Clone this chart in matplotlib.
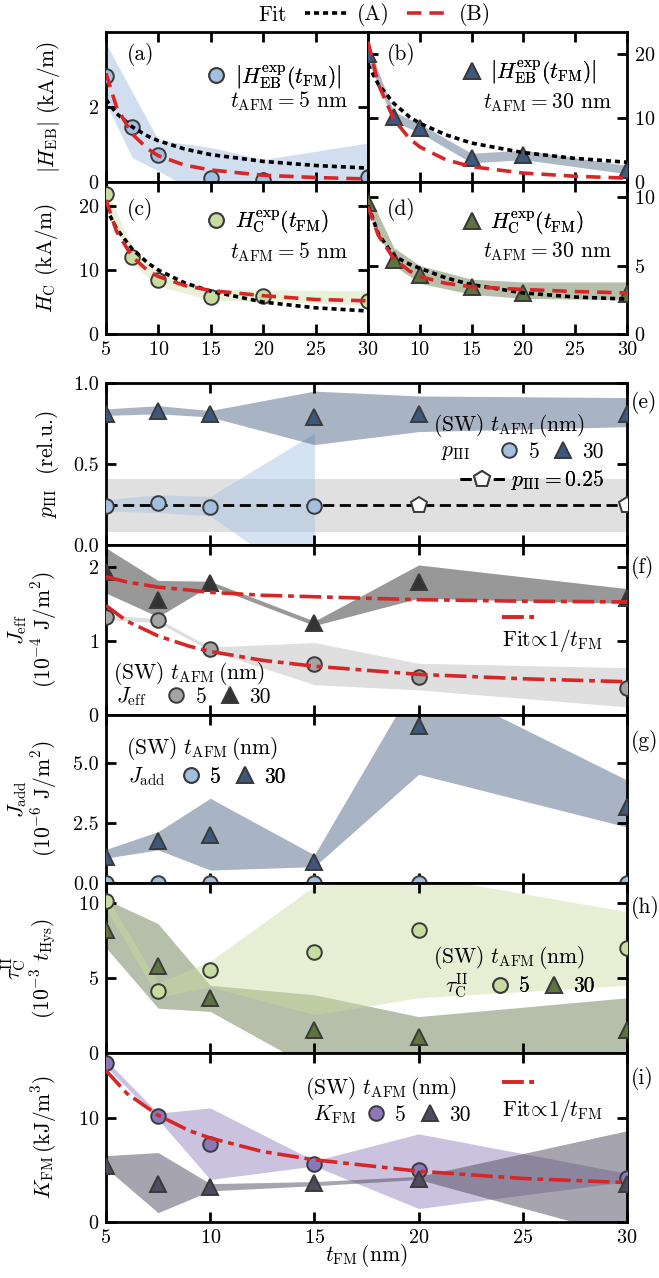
import matplotlib
matplotlib.use("Agg")
import matplotlib.pyplot as plt
from matplotlib.lines import Line2D

# ---------------- data ----------------
t_fm = [5, 7.5, 10, 15, 20, 30]
t_fit = [5, 6, 7.5, 9, 10, 12.5, 15, 20, 25, 30]

# (a) |H_EB| t_AFM = 5 nm
a_val = [2.83, 1.47, 0.72, 0.10, 0.05, 0.13]
a_lo = [2.1, 0.65, 0.30, -0.5, -0.5, -0.8]
a_hi = [3.7, 2.4, 1.12, 0.92, 0.60, 1.04]
a_fitA = [2.2, 1.83, 1.47, 1.22, 1.1, 0.88, 0.73, 0.55, 0.44, 0.37]
a_fitB = [2.9, 2.0, 1.28, 0.88, 0.7, 0.45, 0.32, 0.18, 0.12, 0.08]

# (b) |H_EB| t_AFM = 30 nm
b_val = [20.0, 10.2, 8.4, 3.7, 4.2, 1.9]
b_lo = [19.0, 9.5, 7.7, 3.0, 3.5, 1.3]
b_hi = [21.5, 11.0, 9.1, 4.5, 5.0, 2.6]
b_fitA = [18.4, 15.3, 12.3, 10.2, 9.2, 7.4, 6.1, 4.6, 3.7, 3.1]
b_fitB = [22.0, 15.3, 9.8, 6.8, 5.5, 3.5, 2.4, 1.4, 0.9, 0.6]

# (c) H_C t_AFM = 5 nm
c_val = [21.9, 12.1, 8.4, 5.8, 6.0, 5.2]
c_lo = [20.5, 11.0, 7.5, 5.3, 5.2, 4.5]
c_hi = [23.0, 13.5, 9.5, 7.0, 6.9, 6.8]
c_fitA = [19.8, 16.5, 13.3, 11.1, 10.0, 8.0, 6.7, 5.0, 4.1, 3.6]
c_fitB = [21.0, 16.1, 12.1, 9.9, 9.0, 7.6, 6.8, 6.0, 5.4, 5.2]

# (d) H_C t_AFM = 30 nm
d_val = [9.6, 5.4, 4.3, 3.4, 3.0, 2.9]
d_lo = [9.0, 5.0, 3.7, 2.9, 2.6, 2.5]
d_hi = [10.3, 6.3, 5.0, 4.0, 3.8, 3.8]
d_fitA = [9.4, 7.3, 5.7, 5.1, 4.8, 4.1, 3.6, 3.0, 2.7, 2.55]
d_fitB = [9.3, 7.2, 5.5, 4.6, 4.2, 3.7, 3.45, 3.25, 3.1, 3.0]

# (e) p_III
e_t5 = [5, 7.5, 10, 15]
e_p5 = [0.24, 0.26, 0.235, 0.24]
e_p5_lo = [0.21, 0.20, 0.18, -0.27]
e_p5_hi = [0.28, 0.31, 0.30, 0.69]
e_tfix = [20, 30]
e_pfix = [0.25, 0.25]
P_FIXED = 0.25
P_FIXED_LO, P_FIXED_HI = 0.08, 0.41
e_p30 = [0.81, 0.83, 0.81, 0.79, 0.81, 0.81]
e_p30_lo = [0.80, 0.81, 0.79, 0.62, 0.70, 0.73]
e_p30_hi = [0.84, 0.86, 0.83, 0.95, 0.92, 0.91]

# (f) J_eff
f_j5 = [1.33, 1.28, 0.89, 0.69, 0.52, 0.36]
f_j5_lo = [1.29, 1.25, 0.87, 0.41, 0.34, 0.11]
f_j5_hi = [1.36, 1.30, 0.92, 0.98, 0.70, 0.64]
f_j30 = [1.94, 1.55, 1.79, 1.24, 1.80, 1.58]
f_j30_lo = [1.65, 1.33, 1.75, 1.21, 1.58, 1.51]
f_j30_hi = [2.26, 1.82, 1.81, 1.27, 2.03, 1.71]
f_fit5 = [1.48, 1.27, 1.07, 0.93, 0.86, 0.74, 0.66, 0.55, 0.49, 0.45]
f_fit30 = [1.87, 1.80, 1.73, 1.69, 1.66, 1.62, 1.60, 1.56, 1.54, 1.53]

# (g) J_add
g_j5 = [0, 0, 0, 0, 0, 0]
g_j30 = [1.10, 1.75, 2.0, 0.89, 6.54, 3.18]
g_j30_lo = [1.04, 1.38, 0.54, 0.68, 4.53, 2.33]
g_j30_hi = [1.40, 2.14, 3.53, 1.17, 8.6, 4.29]

# (h) tau_C^II
h_t5 = [10.1, 4.1, 5.5, 6.7, 8.2, 7.0]
h_t5_lo = [9.6, 3.7, 4.4, 2.55, 3.67, 4.5]
h_t5_hi = [10.5, 4.65, 6.1, 11.1, 11.8, 9.4]
h_t30 = [8.2, 5.8, 3.64, 1.53, 1.07, 1.53]
h_t30_lo = [7.0, 2.98, 2.76, -1.07, -1.5, -1.0]
h_t30_hi = [10.2, 8.6, 4.5, 3.87, 2.42, 3.67]

# (i) K_FM
i_k5 = [15.3, 10.2, 7.55, 5.6, 5.05, 4.25]
i_k5_lo = [15.0, 9.9, 4.1, 5.4, 1.3, 3.9]
i_k5_hi = [15.6, 10.5, 11.0, 5.9, 8.5, 4.7]
i_k30 = [5.4, 3.7, 3.4, 3.8, 4.16, 3.7]
i_k30_lo = [5.2, 0.9, 3.0, 3.5, 4.1, -1.4]
i_k30_hi = [6.4, 6.7, 3.7, 3.9, 4.4, 8.8]
i_fit5 = [14.6, 12.4, 10.3, 8.8, 8.1, 6.8, 6.0, 4.9, 4.2, 3.8]

xticks = [5, 10, 15, 20, 25, 30]

# ---------------- style ----------------
FS = 15.5
plt.rcParams.update({
    "font.family": ["cmr10", "DejaVu Serif"],
    "mathtext.fontset": "cm",
    "axes.formatter.use_mathtext": True,
    "font.size": FS,
    "xtick.labelsize": 14.5, "ytick.labelsize": 14.5,
    "axes.linewidth": 2.0,
    "xtick.direction": "in", "ytick.direction": "in",
    "xtick.major.size": 7, "ytick.major.size": 7,
    "xtick.major.width": 2, "ytick.major.width": 2,
    "xtick.top": True, "ytick.right": True,
    "xtick.major.pad": 5, "ytick.major.pad": 5,
})

C_LBLUE = "#a3bfe0"
C_DBLUE = "#3e587d"
C_LGREEN = "#c8dca0"
C_OLIVE = "#5f7341"
C_LGRAY = "#a4a4a4"
C_DGRAY = "#333333"
C_PURPLE = "#8a78b8"
C_DPURP = "#4f4a5e"
C_RED = "#d62728"
EC = "#3a3a3a"

LS_A = (0, (1.4, 1.1))
LS_B = (0, (4, 2.2))
LS_FIT = (0, (6, 1.6, 1.6, 1.6))

fig = plt.figure(figsize=(6.59, 12.78), dpi=100)

L, M, R = 106 / 659, 368 / 659, 627 / 659
H = 1278.0


def ax_at(x0, x1, ytop, ybot):
    return fig.add_axes([x0, 1 - ybot / H, x1 - x0, (ybot - ytop) / H])


ax_a = ax_at(L, M, 32, 182)
ax_b = ax_at(M, R, 32, 182)
ax_c = ax_at(L, M, 182, 334)
ax_d = ax_at(M, R, 182, 334)
ax_e = ax_at(L, R, 383, 545)
ax_f = ax_at(L, R, 545, 715)
ax_g = ax_at(L, R, 715, 883)
ax_h = ax_at(L, R, 883, 1053)
ax_i = ax_at(L, R, 1053, 1222)


def band(ax, lo, hi, color, alpha, x=t_fm, z=1):
    ax.fill_between(x, lo, hi, color=color, alpha=alpha, lw=0, zorder=z)


def pts(ax, y, marker, color, x=t_fm, ms=None, z=5):
    if ms is None:
        ms = 10.5 if marker == "o" else 11.5
    ax.plot(x, y, ls="none", marker=marker, ms=ms, mfc=color, mec=EC,
            mew=1.4, zorder=z)


def fit(ax, y, ls, color, lw=2.6, z=6):
    ax.plot(t_fit, y, ls=ls, color=color, lw=lw, zorder=z,
            dash_capstyle="butt")


for ax in [ax_a, ax_b, ax_c, ax_d, ax_e, ax_f, ax_g, ax_h, ax_i]:
    ax.set_xlim(5, 30)
    ax.set_xticks(xticks)
    ax.tick_params(labelbottom=False)

# (a)
band(ax_a, a_lo, a_hi, C_LBLUE, 0.5)
pts(ax_a, a_val, "o", C_LBLUE)
fit(ax_a, a_fitA, LS_A, "black")
fit(ax_a, a_fitB, LS_B, C_RED)
ax_a.set_ylim(0, 4.0)
ax_a.set_yticks([0, 2])
ax_a.set_ylabel(r"$|H_{\rm EB}|$ (kA/m)")
ax_a.yaxis.set_label_coords(-0.168, 0.5)

# (b)
band(ax_b, b_lo, b_hi, C_DBLUE, 0.42)
pts(ax_b, b_val, "^", C_DBLUE)
fit(ax_b, b_fitA, LS_A, "black")
fit(ax_b, b_fitB, LS_B, C_RED)
ax_b.set_ylim(0, 23.5)
ax_b.set_yticks([0, 10, 20])
ax_b.tick_params(labelleft=False, labelright=True)

# (c)
band(ax_c, c_lo, c_hi, C_LGREEN, 0.4)
pts(ax_c, c_val, "o", C_LGREEN)
fit(ax_c, c_fitA, LS_A, "black")
fit(ax_c, c_fitB, LS_B, C_RED)
ax_c.set_ylim(0, 23.8)
ax_c.set_yticks([0, 10, 20])
ax_c.set_ylabel(r"$H_{\rm C}$ (kA/m)")
ax_c.yaxis.set_label_coords(-0.175, 0.5)
ax_c.tick_params(labelbottom=True)

# (d)
band(ax_d, d_lo, d_hi, C_OLIVE, 0.45)
pts(ax_d, d_val, "^", C_OLIVE)
fit(ax_d, d_fitA, LS_A, "black")
fit(ax_d, d_fitB, LS_B, C_RED)
ax_d.set_ylim(0, 11.1)
ax_d.set_yticks([0, 5, 10])
ax_d.tick_params(labelleft=False, labelright=True, labelbottom=True)
ax_d.set_xticklabels([""] + [str(v) for v in xticks[1:]])


def top_legend(ax, marker, color, label, x_leg, y_leg, line2, x2, y2, tag_s, xt, yt):
    h = Line2D([], [], ls="none", marker=marker, ms=10.5 if marker == "o" else 11.5,
               mfc=color, mec=EC, mew=1.4)
    leg = ax.legend([h], [label], loc="center left", bbox_to_anchor=(x_leg, y_leg),
                    frameon=False, handlelength=1.0, handletextpad=0.35,
                    borderpad=0, borderaxespad=0)
    ax.add_artist(leg)
    ax.text(x2, y2, line2, transform=ax.transAxes, ha="right", va="center")
    ax.text(xt, yt, tag_s, transform=ax.transAxes, ha="left", va="center")


lab_eb = r"$\left|H_{\rm EB}^{\rm exp}(t_{\rm FM})\right|$"
lab_c = r"$H_{\rm C}^{\rm exp}(t_{\rm FM})$"
top_legend(ax_a, "o", C_LBLUE, lab_eb, 0.38, 0.70, r"$t_{\rm AFM} = 5$ nm", 0.925, 0.54, "(a)", 0.08, 0.847)
top_legend(ax_b, "^", C_DBLUE, lab_eb, 0.36, 0.73, r"$t_{\rm AFM} = 30$ nm", 0.94, 0.53, "(b)", 0.073, 0.847)
top_legend(ax_c, "o", C_LGREEN, lab_c, 0.38, 0.737, r"$t_{\rm AFM} = 5$ nm", 0.925, 0.54, "(c)", 0.08, 0.816)
top_legend(ax_d, "^", C_OLIVE, lab_c, 0.36, 0.73, r"$t_{\rm AFM} = 30$ nm", 0.94, 0.54, "(d)", 0.073, 0.816)

# figure-level legend
fig.text(258 / 659, 1 - 15 / H, "Fit", ha="left", va="center")
hA = Line2D([], [], ls=LS_A, color="black", lw=2.6)
hB = Line2D([], [], ls=LS_B, color=C_RED, lw=2.6)
fig.legend([hA, hB], ["(A)", "(B)"], ncol=2, loc="center left",
           bbox_to_anchor=(305 / 659, 1 - 15 / H), frameon=False,
           handlelength=2.0, handletextpad=0.4, columnspacing=0.8,
           borderpad=0, borderaxespad=0)


def sw_legend(ax, x_sw, y1, x_q, y2, x_leg, qty, c5, c30):
    ax.text(x_sw, y1, r"(SW) $t_{\rm AFM}\,$(nm)", transform=ax.transAxes,
            ha="left", va="center")
    ax.text(x_q, y2, qty, transform=ax.transAxes, ha="left", va="center")
    h1 = Line2D([], [], ls="none", marker="o", ms=10.5, mfc=c5, mec=EC, mew=1.4)
    h2 = Line2D([], [], ls="none", marker="^", ms=11.5, mfc=c30, mec=EC, mew=1.4)
    leg = ax.legend([h1, h2], ["5", "30"], loc="center left", bbox_to_anchor=(x_leg, y2),
                    ncol=2, frameon=False, handlelength=1.0, handletextpad=0.4,
                    columnspacing=0.6, borderpad=0, borderaxespad=0)
    ax.add_artist(leg)


def fit_legend(ax, x, y_handle, y_text):
    h = Line2D([], [], ls=LS_FIT, color=C_RED, lw=2.6)
    leg = ax.legend([h], [""], loc="center left", bbox_to_anchor=(x, y_handle),
                    frameon=False, handlelength=1.5, handletextpad=0,
                    borderpad=0, borderaxespad=0)
    ax.add_artist(leg)
    ax.text(x, y_text, r"Fit$\!\propto\!1/t_{\rm FM}$", transform=ax.transAxes,
            ha="left", va="center")


def tag(ax, s, y):
    ax.text(1.008, y, s, transform=ax.transAxes, ha="left", va="center")


# (e)
ax_e.axhspan(P_FIXED_LO, P_FIXED_HI, color="#bbbbbb", alpha=0.45, lw=0, zorder=0.5)
band(ax_e, e_p5_lo, e_p5_hi, C_LBLUE, 0.45, x=e_t5)
band(ax_e, e_p30_lo, e_p30_hi, C_DBLUE, 0.45)
ax_e.axhline(P_FIXED, color="black", ls=(0, (4, 2)), lw=2.0, zorder=4)
pts(ax_e, e_p5, "o", C_LBLUE, x=e_t5)
pts(ax_e, e_pfix, "p", "white", x=e_tfix, ms=12)
pts(ax_e, e_p30, "^", C_DBLUE)
ax_e.set_ylim(0, 1.0)
ax_e.set_yticks([0, 0.5, 1.0])
ax_e.set_yticklabels(["0.0", "0.5", "1.0"])
ax_e.set_ylabel(r"$p_{\rm III}$  (rel.u.)")
ax_e.yaxis.set_label_coords(-0.086, 0.5)
sw_legend(ax_e, 0.628, 0.74, 0.643, 0.574, 0.753, r"$p_{\rm III}$", C_LBLUE, C_DBLUE)
hp = Line2D([], [], color="black", ls=(0, (4, 2)), lw=2.0, marker="p", ms=12,
            mfc="white", mec=EC, mew=1.4)
legp = ax_e.legend([hp], [r"$p_{\rm III} = 0.25$"], loc="center left",
                   bbox_to_anchor=(0.679, 0.40), frameon=False, handlelength=2.1,
                   handletextpad=0.3, borderpad=0, borderaxespad=0, numpoints=1)
ax_e.add_artist(legp)
tag(ax_e, "(e)", 0.877)

# (f)
band(ax_f, f_j5_lo, f_j5_hi, C_LGRAY, 0.35)
band(ax_f, f_j30_lo, f_j30_hi, C_DGRAY, 0.5)
pts(ax_f, f_j5, "o", C_LGRAY)
pts(ax_f, f_j30, "^", C_DGRAY)
fit(ax_f, f_fit5, LS_FIT, C_RED)
fit(ax_f, f_fit30, LS_FIT, C_RED)
ax_f.set_ylim(0, 2.3)
ax_f.set_yticks([0, 1, 2])
ax_f.set_ylabel(r"$J_{\rm eff}$" + "\n" + r"(10$^{-4}$ J/m$^2$)", linespacing=1.0)
ax_f.yaxis.set_label_coords(-0.09, 0.5)
sw_legend(ax_f, 0.0134, 0.247, 0.019, 0.106, 0.114, r"$J_{\rm eff}$", C_LGRAY, C_DGRAY)
fit_legend(ax_f, 0.76, 0.565, 0.44)
tag(ax_f, "(f)", 0.865)

# (g)
band(ax_g, g_j30_lo, g_j30_hi, C_DBLUE, 0.45)
pts(ax_g, g_j5, "o", C_LBLUE)
pts(ax_g, g_j30, "^", C_DBLUE)
ax_g.set_ylim(0, 7.0)
ax_g.set_yticks([0, 2.5, 5.0])
ax_g.set_yticklabels(["0.0", "2.5", "5.0"])
ax_g.set_ylabel(r"$J_{\rm add}$" + "\n" + r"(10$^{-6}$ J/m$^2$)", linespacing=1.0)
ax_g.yaxis.set_label_coords(-0.09, 0.5)
sw_legend(ax_g, 0.038, 0.80, 0.042, 0.63, 0.142, r"$J_{\rm add}$", C_LBLUE, C_DBLUE)
tag(ax_g, "(g)", 0.84)

# (h)
band(ax_h, h_t30_lo, h_t30_hi, C_OLIVE, 0.45)
band(ax_h, h_t5_lo, h_t5_hi, C_LGREEN, 0.45)
pts(ax_h, h_t5, "o", C_LGREEN)
pts(ax_h, h_t30, "^", C_OLIVE)
ax_h.set_ylim(0, 11.3)
ax_h.set_yticks([0, 5, 10])
ax_h.set_ylabel(r"$\tau_{\rm C}^{\rm II}$" + "\n" + r"(10$^{-3}$ $t_{\rm Hys}$)", linespacing=1.0)
ax_h.yaxis.set_label_coords(-0.09, 0.5)
sw_legend(ax_h, 0.628, 0.56, 0.65, 0.39, 0.735, r"$\tau_{\rm C}^{\rm II}$", C_LGREEN, C_OLIVE)
tag(ax_h, "(h)", 0.853)

# (i)
band(ax_i, i_k5_lo, i_k5_hi, C_PURPLE, 0.45)
band(ax_i, i_k30_lo, i_k30_hi, C_DPURP, 0.5)
pts(ax_i, i_k5, "o", C_PURPLE)
pts(ax_i, i_k30, "^", C_DPURP)
fit(ax_i, i_fit5, LS_FIT, C_RED)
ax_i.set_ylim(0, 16.3)
ax_i.set_yticks([0, 10])
ax_i.set_ylabel(r"$K_{\rm FM}\,$(kJ/m$^3$)")
ax_i.yaxis.set_label_coords(-0.09, 0.5)
ax_i.tick_params(labelbottom=True)
ax_i.set_xlabel(r"$t_{\rm FM}\,$(nm)")
ax_i.xaxis.set_label_coords(0.5, -0.118)
sw_legend(ax_i, 0.382, 0.79, 0.397, 0.633, 0.497, r"$K_{\rm FM}$", C_PURPLE, C_DPURP)
fit_legend(ax_i, 0.76, 0.82, 0.66)
tag(ax_i, "(i)", 0.852)

fig.savefig("out.png", dpi=100)
